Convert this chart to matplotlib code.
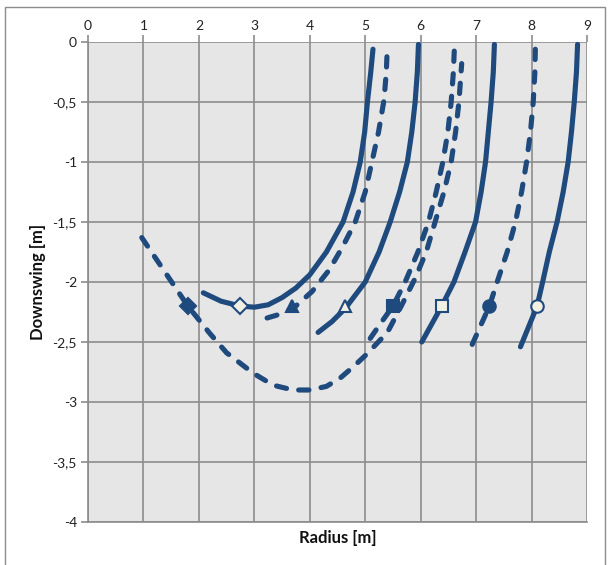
import matplotlib
matplotlib.use("Agg")
import matplotlib.pyplot as plt
from matplotlib.patches import Rectangle

plt.rcParams['font.family'] = ['Lato', 'DejaVu Sans']

# ---- data ----
big_x = [0.97, 1.48, 1.8, 2.2, 2.5, 2.98, 3.34, 3.7, 4.0, 4.3, 4.55, 4.8, 5.03, 5.4, 5.65, 5.9, 6.1, 6.26, 6.42, 6.55, 6.63, 6.69, 6.74]
big_y = [-1.63, -1.98, -2.2, -2.43, -2.59, -2.76, -2.86, -2.9, -2.9, -2.87, -2.8, -2.7, -2.6, -2.42, -2.2, -1.97, -1.75, -1.5, -1.25, -1.0, -0.75, -0.5, -0.18]

s1_x = [2.08, 2.4, 2.74, 3.0, 3.25, 3.5, 3.75, 4.0, 4.3, 4.6, 4.78, 4.91, 4.99, 5.04, 5.1, 5.14]
s1_y = [-2.09, -2.16, -2.2, -2.21, -2.19, -2.13, -2.05, -1.94, -1.75, -1.5, -1.25, -1.0, -0.75, -0.5, -0.25, -0.06]

d2_x = [3.23, 3.45, 3.7, 4.04, 4.35, 4.6, 4.82, 5.0, 5.12, 5.24, 5.34, 5.38, 5.40]
d2_y = [-2.3, -2.27, -2.22, -2.08, -1.9, -1.7, -1.5, -1.25, -1.0, -0.75, -0.48, -0.25, -0.03]

s3_x = [4.15, 4.4, 4.64, 5.0, 5.25, 5.45, 5.62, 5.76, 5.84, 5.9, 5.94, 5.96]
s3_y = [-2.42, -2.33, -2.22, -2.0, -1.75, -1.5, -1.25, -1.0, -0.75, -0.5, -0.25, -0.02]

d4_x = [5.09, 5.3, 5.5, 5.72, 5.95, 6.14, 6.28, 6.4, 6.49, 6.55, 6.59, 6.61]
d4_y = [-2.47, -2.33, -2.2, -2.0, -1.75, -1.5, -1.25, -1.0, -0.75, -0.5, -0.25, -0.03]

s5_x = [6.02, 6.38, 6.6, 6.8, 6.99, 7.09, 7.17, 7.22, 7.27, 7.31, 7.33]
s5_y = [-2.5, -2.2, -2.0, -1.75, -1.5, -1.25, -1.0, -0.75, -0.5, -0.25, -0.02]

d6_x = [6.93, 7.24, 7.38, 7.56, 7.71, 7.82, 7.91, 7.98, 8.03, 8.06, 8.07]
d6_y = [-2.52, -2.2, -2.0, -1.75, -1.5, -1.25, -1.0, -0.75, -0.5, -0.25, -0.02]

s7_x = [7.8, 8.1, 8.2, 8.32, 8.46, 8.57, 8.66, 8.72, 8.77, 8.81, 8.83]
s7_y = [-2.54, -2.2, -2.0, -1.75, -1.5, -1.25, -1.0, -0.75, -0.5, -0.25, -0.02]

marker_x = [1.8, 2.74, 3.68, 4.64, 5.5, 6.39, 7.24, 8.1]
marker_y = [-2.2, -2.2, -2.2, -2.2, -2.2, -2.2, -2.2, -2.2]
marker_shape = ['D', 'D', '^', '^', 's', 's', 'o', 'o']
marker_filled = [True, False, True, False, True, False, True, False]

x_ticks = [0, 1, 2, 3, 4, 5, 6, 7, 8, 9]
y_ticks = [0, -0.5, -1, -1.5, -2, -2.5, -3, -3.5, -4]
y_tick_labels = ['0', '-0,5', '-1', '-1,5', '-2', '-2,5', '-3', '-3,5', '-4']

# ---- styling ----
NAVY = '#1F4A7E'
FILL = '#F2F0E4'
LW = 3.7
DASH = (0, (2.0, 2.4))

fig = plt.figure(figsize=(6.1, 5.65), dpi=100)
ax = fig.add_axes([88/610, 1-522/565, (587-88)/610, (522-42)/565])
ax.set_facecolor('#E6E6E6')

solid = [(s1_x, s1_y), (s3_x, s3_y), (s5_x, s5_y), (s7_x, s7_y)]
dashed = [(big_x, big_y), (d2_x, d2_y), (d4_x, d4_y), (d6_x, d6_y)]
for xs, ys in solid:
    ax.plot(xs, ys, color=NAVY, lw=LW, solid_capstyle='round', solid_joinstyle='round', zorder=3)
for xs, ys in dashed:
    ax.plot(xs, ys, color=NAVY, lw=LW, linestyle=DASH, dash_capstyle='round',
            dash_joinstyle='round', zorder=3)

for mx, my, ms, mf in zip(marker_x, marker_y, marker_shape, marker_filled):
    size = {'D': 8, '^': 9, 's': 8.5, 'o': 9}[ms]
    ax.plot([mx], [my], marker=ms, markersize=size, markerfacecolor=NAVY if mf else FILL,
            markeredgecolor=NAVY, markeredgewidth=1.5, linestyle='none', zorder=4)

ax.set_xlim(0, 9)
ax.set_ylim(-4, 0)
ax.xaxis.tick_top()
ax.set_xticks(x_ticks)
ax.set_yticks(y_ticks)
ax.set_yticklabels(y_tick_labels)
ax.tick_params(axis='both', labelsize=10, colors='#8C8C8C', labelcolor='#222222',
               length=5, width=1.2, pad=3)
ax.tick_params(axis='x', pad=2)
ax.grid(True, color='#8C8C8C', lw=1.2, zorder=1)
ax.set_axisbelow(True)
for sp in ['top', 'right']:
    ax.spines[sp].set_visible(False)
for sp in ['left', 'bottom']:
    ax.spines[sp].set_color('#8C8C8C')
    ax.spines[sp].set_linewidth(1.2)

fig.text((88+587)/2/610, 1-538/565, 'Radius [m]', ha='center', va='center',
         fontsize=12, fontweight='bold', color='#111111')
fig.text(38/610, 1-282/565, 'Downswing [m]', ha='center', va='center', rotation=90,
         fontsize=12, fontweight='bold', color='#111111')

fig.patches.append(Rectangle((5/610, -0.01), 600/610, 1-7/565+0.01, transform=fig.transFigure,
                             fill=False, edgecolor='#8C8C8C', lw=1.0))

fig.savefig('out.png', dpi=100, facecolor='white')
